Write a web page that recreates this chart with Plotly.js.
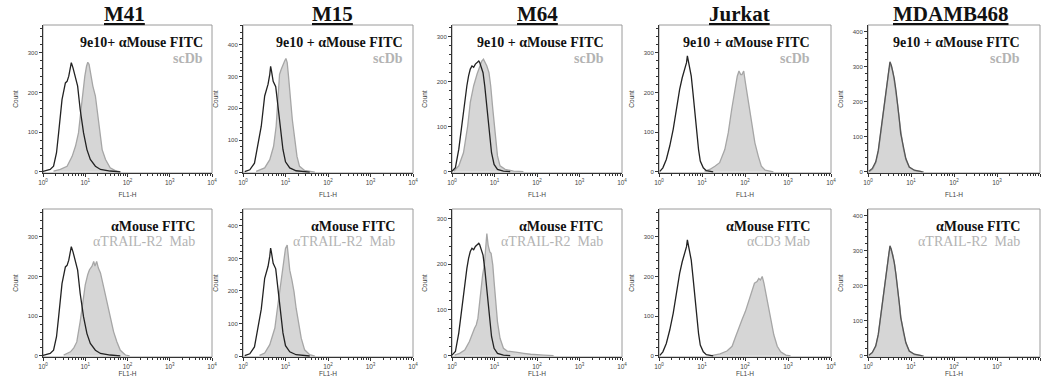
<!DOCTYPE html>
<html><head><meta charset="utf-8">
<script src="https://cdn.plot.ly/plotly-3.0.1.min.js"></script>
<style>html,body{margin:0;padding:0;background:#fff}#chart{width:1043px;height:391px}</style>
</head><body><div id="chart"></div>
<script>
// ---------- data (x = log10 of FL1-H, y = Count) ----------
const cellLines = ['M41', 'M15', 'M64', 'Jurkat', 'MDAMB468'];
const xTickVals = [1, 10, 100, 1000, 10000];
const xTickText = ['10<sup>0</sup>', '10<sup>1</sup>', '10<sup>2</sup>', '10<sup>3</sup>', '10<sup>4</sup>'];
const yMaxRow1 = [370, 462, 326, 370, 419];
const yMaxRow2 = [370, 452, 321, 370, 419];
const row1Line1 = ['9e10+ αMouse FITC', '9e10 + αMouse FITC', '9e10 + αMouse FITC', '9e10 + αMouse FITC', '9e10 + αMouse FITC'];
const row1Line2 = ['scDb', 'scDb', 'scDb', 'scDb', 'scDb'];
const row2Line1 = ['αMouse FITC', 'αMouse FITC', 'αMouse FITC', 'αMouse FITC', 'αMouse FITC'];
const row2Line2 = ['αTRAIL-R2\u00a0\u00a0Mab', 'αTRAIL-R2\u00a0\u00a0Mab', 'αTRAIL-R2\u00a0\u00a0Mab', 'αCD3 Mab', 'αTRAIL-R2\u00a0\u00a0Mab'];

// control: αMouse FITC (black outline)
const ctrlM41_x = [0.00, 0.09, 0.17, 0.25, 0.32, 0.37, 0.45, 0.53, 0.57, 0.61, 0.65, 0.67, 0.71, 0.77, 0.82, 0.88, 0.96, 1.04, 1.12, 1.24, 1.36, 1.59, 1.83];
const ctrlM41_y = [1, 4, 6, 14, 48, 98, 182, 224, 228, 241, 270, 275, 262, 233, 216, 157, 98, 56, 31, 14, 6, 2, 0];
const ctrlM15_x = [0.04, 0.16, 0.27, 0.35, 0.43, 0.51, 0.55, 0.59, 0.63, 0.65, 0.67, 0.71, 0.77, 0.82, 0.88, 0.94, 1.00, 1.10, 1.25, 1.57];
const ctrlM15_y = [1, 7, 28, 81, 144, 239, 255, 276, 307, 332, 318, 285, 268, 207, 123, 71, 32, 13, 4, 0];
const ctrlM64_x = [0.00, 0.08, 0.16, 0.23, 0.27, 0.31, 0.35, 0.39, 0.43, 0.47, 0.51, 0.55, 0.59, 0.63, 0.65, 0.68, 0.73, 0.77, 0.82, 0.87, 0.93, 0.99, 1.07, 1.21, 1.37];
const ctrlM64_y = [1, 9, 50, 102, 139, 169, 191, 213, 228, 235, 232, 239, 243, 246, 243, 235, 220, 191, 139, 87, 42, 16, 5, 1, 0];
const ctrlJurkat_x = [0.02, 0.09, 0.17, 0.25, 0.33, 0.40, 0.48, 0.54, 0.60, 0.64, 0.66, 0.68, 0.71, 0.75, 0.79, 0.83, 0.87, 0.92, 0.96, 1.03, 1.10, 1.26];
const ctrlJurkat_y = [1, 10, 31, 65, 107, 157, 208, 237, 258, 275, 292, 279, 266, 241, 199, 149, 98, 56, 27, 10, 3, 0];
const ctrlMDAMB_x = [0.02, 0.10, 0.18, 0.24, 0.28, 0.32, 0.36, 0.39, 0.43, 0.46, 0.49, 0.51, 0.54, 0.57, 0.61, 0.65, 0.69, 0.73, 0.76, 0.82, 0.88, 0.96, 1.08, 1.27];
const ctrlMDAMB_y = [2, 10, 29, 62, 100, 138, 186, 214, 248, 276, 300, 314, 305, 290, 267, 233, 195, 148, 110, 71, 38, 14, 5, 0];

// row 1 sample: scDb (grey filled)
const scDbM41_x = [0.25, 0.41, 0.57, 0.69, 0.77, 0.84, 0.90, 0.95, 0.99, 1.03, 1.06, 1.09, 1.14, 1.18, 1.24, 1.28, 1.34, 1.40, 1.48, 1.59, 1.71, 1.83];
const scDbM41_y = [2, 6, 14, 39, 65, 98, 157, 208, 241, 266, 276, 271, 241, 216, 191, 157, 98, 56, 31, 10, 3, 0];
const scDbM15_x = [0.31, 0.51, 0.63, 0.72, 0.78, 0.83, 0.86, 0.90, 0.94, 0.98, 1.01, 1.04, 1.07, 1.11, 1.16, 1.22, 1.27, 1.33, 1.45, 1.69];
const scDbM15_y = [2, 13, 39, 81, 144, 228, 307, 323, 339, 349, 357, 344, 302, 228, 165, 102, 49, 18, 5, 0];
const scDbM64_x = [0.04, 0.16, 0.27, 0.37, 0.43, 0.51, 0.59, 0.65, 0.70, 0.74, 0.78, 0.82, 0.87, 0.91, 0.96, 1.02, 1.07, 1.13, 1.25, 1.45, 1.68];
const scDbM64_y = [1, 13, 42, 102, 154, 191, 217, 235, 246, 250, 243, 235, 220, 191, 139, 79, 35, 13, 5, 1, 0];
const scDbJurkat_x = [1.06, 1.18, 1.30, 1.41, 1.53, 1.61, 1.69, 1.76, 1.82, 1.86, 1.90, 1.93, 1.97, 2.01, 2.06, 2.11, 2.17, 2.23, 2.31, 2.38, 2.47, 2.66];
const scDbJurkat_y = [2, 6, 14, 23, 56, 98, 157, 208, 241, 254, 245, 245, 254, 224, 191, 149, 107, 73, 39, 14, 4, 0];
const scDbMDAMB_x = [0.03, 0.11, 0.18, 0.24, 0.28, 0.32, 0.36, 0.39, 0.43, 0.46, 0.49, 0.52, 0.55, 0.58, 0.61, 0.65, 0.69, 0.73, 0.77, 0.82, 0.88, 0.96, 1.08, 1.30];
const scDbMDAMB_y = [1, 8, 26, 58, 95, 133, 180, 210, 243, 270, 293, 305, 300, 285, 262, 228, 190, 145, 105, 68, 35, 13, 4, 0];

// row 2 sample: antibody (grey filled)
const mabM41_x = [0.49, 0.65, 0.73, 0.80, 0.88, 0.95, 1.00, 1.06, 1.10, 1.16, 1.20, 1.23, 1.27, 1.31, 1.36, 1.44, 1.51, 1.59, 1.67, 1.75, 1.83, 1.95, 2.05];
const mabM41_y = [2, 10, 20, 35, 86, 137, 179, 205, 217, 226, 238, 226, 238, 221, 209, 171, 137, 95, 61, 35, 14, 2, 0];
const mabM15_x = [0.39, 0.51, 0.63, 0.75, 0.80, 0.86, 0.92, 0.96, 1.00, 1.04, 1.07, 1.10, 1.15, 1.20, 1.25, 1.32, 1.37, 1.45, 1.57, 1.69];
const mabM15_y = [2, 9, 35, 86, 137, 198, 249, 300, 331, 341, 310, 264, 234, 198, 147, 96, 55, 19, 4, 0];
const mabM64_x = [0.06, 0.18, 0.30, 0.41, 0.53, 0.57, 0.61, 0.64, 0.68, 0.72, 0.76, 0.80, 0.82, 0.85, 0.89, 0.92, 0.96, 0.99, 1.03, 1.07, 1.13, 1.21, 1.30, 1.42, 1.54, 1.69, 1.85, 2.16, 2.39];
const mabM64_y = [1, 5, 12, 31, 60, 67, 82, 111, 147, 176, 198, 242, 267, 242, 227, 224, 198, 162, 118, 74, 38, 16, 10, 9, 7, 5, 3, 1, 0];
const mabJurkat_x = [1.19, 1.30, 1.42, 1.58, 1.70, 1.77, 1.85, 1.93, 2.01, 2.09, 2.16, 2.22, 2.28, 2.32, 2.36, 2.40, 2.44, 2.49, 2.55, 2.62, 2.67, 2.75, 2.83, 2.95, 3.06];
const mabJurkat_y = [0, 2, 5, 12, 24, 45, 70, 91, 112, 137, 162, 183, 187, 195, 191, 200, 183, 154, 116, 79, 53, 24, 10, 2, 0];
const mabMDAMB_x = [0.02, 0.10, 0.18, 0.24, 0.28, 0.32, 0.36, 0.40, 0.43, 0.46, 0.49, 0.52, 0.55, 0.58, 0.62, 0.65, 0.69, 0.73, 0.77, 0.82, 0.88, 0.96, 1.08, 1.30];
const mabMDAMB_y = [1, 9, 27, 60, 97, 135, 182, 218, 245, 272, 296, 308, 300, 287, 260, 228, 190, 146, 106, 68, 36, 13, 4, 0];

// ---------- layout geometry ----------
const W = 1043, H = 391;
const colLeft = [43, 243, 452, 659, 868];
const colRight = [212, 413, 622, 831, 1040];
const rowTop = [25, 209];
const rowBottom = [173, 357];
const titleCenter = [124, 332, 537, 739, 950];
const textGap = [[7, 8, 16, 19, 18], [15, 16, 17, 19, 18]];

const ctrls = [[ctrlM41_x, ctrlM41_y], [ctrlM15_x, ctrlM15_y], [ctrlM64_x, ctrlM64_y], [ctrlJurkat_x, ctrlJurkat_y], [ctrlMDAMB_x, ctrlMDAMB_y]];
const samples = [
  [[scDbM41_x, scDbM41_y], [scDbM15_x, scDbM15_y], [scDbM64_x, scDbM64_y], [scDbJurkat_x, scDbJurkat_y], [scDbMDAMB_x, scDbMDAMB_y]],
  [[mabM41_x, mabM41_y], [mabM15_x, mabM15_y], [mabM64_x, mabM64_y], [mabJurkat_x, mabJurkat_y], [mabMDAMB_x, mabMDAMB_y]]
];
const yMax = [yMaxRow1, yMaxRow2];
const lines1 = [row1Line1, row2Line1];
const lines2 = [row1Line2, row2Line2];

const minorX = [];
for (let d = 0; d < 4; d++) for (let m = 2; m < 10; m++) minorX.push(m * Math.pow(10, d));

const toFL = a => a.map(e => Math.pow(10, e));
const traces = [], shapes = [], annotations = [];
const layout = {
  width: W, height: H, margin: {l: 0, r: 0, t: 0, b: 0},
  paper_bgcolor: '#fff', plot_bgcolor: '#fff', showlegend: false,
  font: {family: 'Liberation Sans, Arial, sans-serif', color: '#444'}
};
const serif = 'Liberation Serif, Times New Roman, serif';

for (let r = 0; r < 2; r++) {
  for (let c = 0; c < 5; c++) {
    const i = r * 5 + c + 1;
    const xa = 'x' + (i === 1 ? '' : i), ya = 'y' + (i === 1 ? '' : i);
    const xk = 'xaxis' + (i === 1 ? '' : i), yk = 'yaxis' + (i === 1 ? '' : i);
    const s = samples[r][c], k = ctrls[c];
    traces.push({x: toFL(s[0]), y: s[1], xaxis: xa, yaxis: ya, type: 'scatter', mode: 'lines',
      fill: 'tozeroy', fillcolor: '#d6d6d6', line: {color: '#a6a6a6', width: 1.3}, hoverinfo: 'skip'});
    traces.push({x: toFL(k[0]), y: k[1], xaxis: xa, yaxis: ya, type: 'scatter', mode: 'lines',
      line: {color: c === 4 ? '#555' : '#222', width: 1.3}, hoverinfo: 'skip'});
    layout[xk] = {
      type: 'log', range: [0, 4], domain: [colLeft[c] / W, colRight[c] / W], anchor: ya,
      tickmode: 'array', tickvals: xTickVals, ticktext: xTickText,
      ticks: 'outside', ticklen: 3, tickwidth: 1, tickcolor: '#333',
      minor: {tickmode: 'array', tickvals: minorX, ticks: 'outside', ticklen: 2, tickwidth: 1, tickcolor: '#333', showgrid: false},
      showline: true, linecolor: '#333', linewidth: 1, showgrid: false, zeroline: false, automargin: false,
      tickfont: {size: 6.5, color: '#444'},
      title: {text: 'FL1-H', font: {size: 6.5, color: '#444'}, standoff: r === 0 ? 7 : 2}
    };
    layout[yk] = {
      range: [-3, yMax[r][c]], domain: [1 - rowBottom[r] / H, 1 - rowTop[r] / H], anchor: xa,
      tick0: 0, dtick: 100, ticks: 'outside', ticklen: 3, tickwidth: 1, tickcolor: '#333',
      minor: {dtick: 20, ticks: 'outside', ticklen: 2, tickwidth: 1, tickcolor: '#333', showgrid: false},
      showline: true, linecolor: '#333', linewidth: 1, showgrid: false, zeroline: false, automargin: false,
      tickfont: {size: 6, color: '#444'},
      title: {text: 'Count', font: {size: 6.5, color: '#444'}, standoff: 8}
    };
    shapes.push({type: 'rect', xref: xa + ' domain', yref: ya + ' domain', x0: 0, x1: 1, y0: 0, y1: 1,
      line: {color: '#9a9a9a', width: 1}, layer: 'below'});
    annotations.push({xref: xa + ' domain', yref: ya + ' domain', x: 1, y: 1 - 17.7 / 148, xanchor: 'right', yanchor: 'middle',
      xshift: -textGap[r][c], showarrow: false, text: '<b>' + lines1[r][c] + '</b>',
      font: {family: serif, size: 14, color: '#111'}});
    annotations.push({xref: xa + ' domain', yref: ya + ' domain', x: 1, y: 1 - (r === 0 ? 34 : 32) / 148, xanchor: 'right', yanchor: 'middle',
      xshift: -textGap[r][c], showarrow: false,
      text: r === 0 ? '<b>' + lines2[r][c] + '</b>' : lines2[r][c],
      font: {family: serif, size: 14, color: '#b3b3b3'}});
  }
}
for (let c = 0; c < 5; c++) {
  annotations.push({xref: 'paper', yref: 'paper', x: titleCenter[c] / W, y: 1 - 14 / H, xanchor: 'center', yanchor: 'middle',
    showarrow: false, text: '<b><u>' + cellLines[c] + '</u></b>', font: {family: serif, size: 21, color: '#111'}});
}
layout.shapes = shapes;
layout.annotations = annotations;
Plotly.newPlot('chart', traces, layout, {staticPlot: true, displayModeBar: false});
</script>
</body></html>
